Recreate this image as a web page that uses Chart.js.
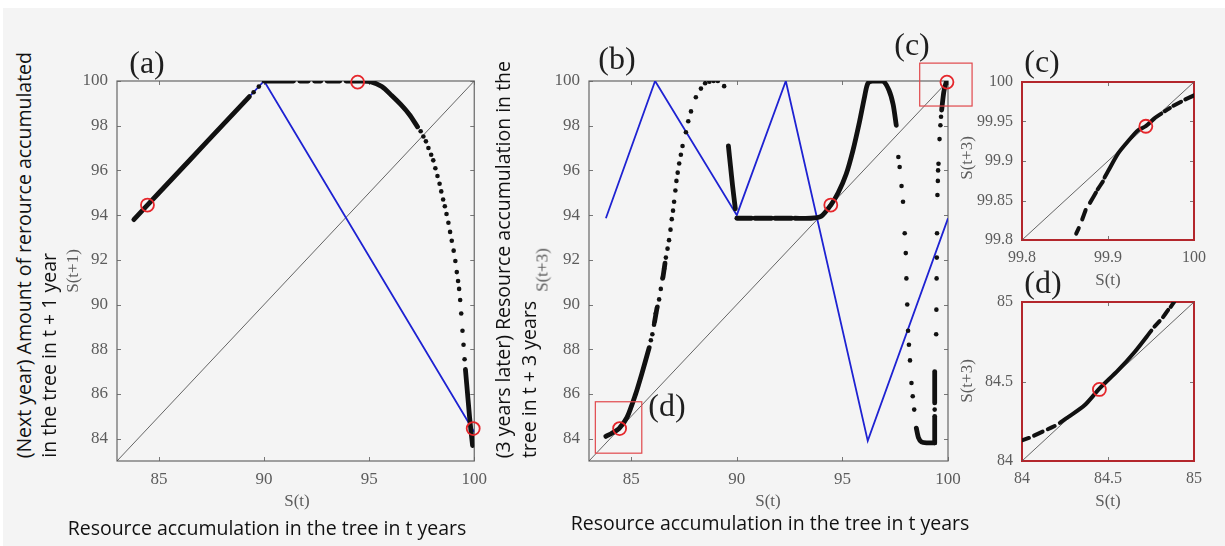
<!DOCTYPE html>
<html>
<head>
<meta charset="utf-8">
<script src="https://cdn.jsdelivr.net/npm/chart.js@4.4.1/dist/chart.umd.min.js"></script>
<style>
html, body { margin: 0; padding: 0; background: #fff; width: 1225px; height: 546px; overflow: hidden; }
#fig { position: absolute; left: 3px; top: 8px; width: 1222px; height: 538px; background: #f4f4f4; }
canvas { position: absolute; }
.lbl { position: absolute; font-family: "Liberation Serif", serif; color: #1e1e1e; font-size: 32px; line-height: 1; white-space: nowrap; transform: translate(-50%, -50%); }
.ax { position: absolute; font-family: "Liberation Serif", serif; color: #5c5c5c; font-size: 17px; line-height: 1; white-space: nowrap; transform: translate(-50%, -50%); }
.ax.rot { transform: translate(-50%, -50%) rotate(-90deg); }
.note { position: absolute; font-family: "Open Sans", sans-serif; color: #111; font-size: 17px; line-height: 1; white-space: nowrap; }
.note.h { transform: translate(-50%, -50%); }
.note.v { writing-mode: vertical-rl; transform: rotate(180deg); }
</style>
</head>
<body>
<div id="fig"></div>

<canvas id="chartA" width="440" height="480" style="left:55px;top:40px;"></canvas>
<canvas id="chartB" width="440" height="480" style="left:535px;top:40px;"></canvas>
<canvas id="chartC" width="240" height="230" style="left:975px;top:40px;"></canvas>
<canvas id="chartD" width="240" height="230" style="left:975px;top:270px;"></canvas>

<div class="lbl" style="left:147px;top:62px;">(a)</div>
<div class="lbl" style="left:617px;top:58px;">(b)</div>
<div class="lbl" style="left:912px;top:44px;">(c)</div>
<div class="lbl" style="left:667px;top:405px;">(d)</div>
<div class="lbl" style="left:1042px;top:61px;">(c)</div>
<div class="lbl" style="left:1043px;top:282px;">(d)</div>

<div class="ax" style="left:297px;top:500px;">S(t)</div>
<div class="ax" style="left:768px;top:500px;">S(t)</div>
<div class="ax" style="left:1108px;top:279px;">S(t)</div>
<div class="ax" style="left:1108px;top:500px;">S(t)</div>
<div class="ax rot" style="left:72px;top:271px;">S(t+1)</div>
<div class="ax rot" style="left:542px;top:270px;">S(t+3)</div>
<div class="ax rot" style="left:966px;top:158px;">S(t+3)</div>
<div class="ax rot" style="left:966px;top:381px;">S(t+3)</div>

<div class="note v fit" style="left:14px;bottom:88px;">(Next year) Amount of rerource accumulated</div>
<div class="note v fit" style="left:39px;bottom:88px;">in the tree in t + 1 year</div>
<div class="note v fit" style="left:493px;bottom:88px;">(3 years later) Resource accumulation in the</div>
<div class="note v fit" style="left:519px;bottom:88px;">tree in t + 3 years</div>
<div class="note h fit" style="left:267px;top:528px;">Resource accumulation in the tree in t years</div>
<div class="note h fit" style="left:770px;top:523px;">Resource accumulation in the tree in t years</div>

<script>
// tick values
const AB_X_TICKS = [85, 90, 95, 100];
const AB_Y_TICKS = [84, 86, 88, 90, 92, 94, 96, 98, 100];
const C_X_TICKS = [99.8, 99.9, 100];
const C_Y_TICKS = [99.8, 99.85, 99.9, 99.95, 100];
const D_X_TICKS = [84, 84.5, 85];
const D_Y_TICKS = [84, 84.5, 85];

// (a) S(t+1) against S(t)
const A_DIAG = [[83, 83], [100, 100]];
const A_TENT = [[83.8, 93.8], [90, 100], [100, 84.3]];
const A_SOLID = [
  [[83.8, 93.8], [85, 95], [86.5, 96.5], [88, 98], [89.3, 99.3]],
  [[90, 100], [91.4, 100]],
  [[91.7, 100], [92.1, 100]],
  [[92.4, 100], [92.7, 100]],
  [[93.0, 100], [93.6, 100]],
  [[93.9, 100], [94.6, 100], [95.06, 99.97], [95.6, 99.75], [96.07, 99.35], [96.5, 98.95], [96.92, 98.49], [97.3, 97.95]],
  [[99.58, 87.1], [99.7, 85.8], [99.78, 84.94], [99.85, 84.3], [99.92, 83.69]],
];
const A_DOTS = [
  [89.5, 99.5], [89.75, 99.75],
  [97.45, 97.75], [97.58, 97.52], [97.7, 97.3], [97.82, 97.0], [97.95, 96.7], [98.05, 96.45],
  [98.15, 96.1], [98.25, 95.75], [98.35, 95.4], [98.43, 95.06], [98.52, 94.7], [98.6, 94.4],
  [98.68, 94.05], [98.77, 93.66], [98.85, 93.25], [98.93, 92.85], [99.02, 92.41], [99.1, 91.95],
  [99.17, 91.45], [99.23, 91.05], [99.28, 90.7], [99.33, 90.2], [99.38, 89.6], [99.44, 88.83],
  [99.49, 88.2], [99.54, 87.55],
];
const A_CYCLE = [[84.45, 94.45], [94.45, 99.95], [99.95, 84.45]];

// (b) S(t+3) against S(t)
const B_DIAG = [[83, 83], [100, 100]];
const B_TENT = [[83.8, 93.86], [86.13, 100], [90.0, 94.0], [92.32, 100], [96.2, 83.9], [100, 93.86]];
const B_SOLID = [
  [[83.8, 84.1], [84.1, 84.25], [84.42, 84.45], [84.8, 84.95], [85.2, 85.97], [85.5, 86.9], [85.85, 88.07]],
  [[86.1, 89.2], [86.22, 89.85]],
  [[86.5, 91.2], [86.6, 91.85]],
  [[89.6, 97.1], [89.7, 96.2], [89.8, 95.3], [89.93, 94.28]],
  [[90.0, 93.86], [90.7, 93.86]],
  [[90.85, 93.86], [91.65, 93.86]],
  [[91.8, 93.86], [92.6, 93.86]],
  [[92.75, 93.86], [93.5, 93.86], [94.0, 93.95], [94.45, 94.45], [94.8, 95.0], [95.18, 95.84], [95.5, 96.9],
   [95.81, 98.18], [96.05, 99.3], [96.21, 99.9], [96.5, 100], [96.92, 100], [97.2, 99.6], [97.4, 98.96], [97.55, 98.02]],
  [[98.5, 84.47], [98.6, 84.05], [98.75, 83.85], [99.0, 83.81], [99.37, 83.81]],
  [[99.37, 83.81], [99.37, 85.0]],
  [[99.37, 85.6], [99.37, 87.0]],
  [[99.7, 98.7], [99.8, 99.5], [99.9, 99.9], [99.96, 99.98]],
];
const B_DOTS = [
  [85.93, 88.4], [86.0, 88.67], [86.08, 89.1], [86.16, 89.6], [86.24, 89.9], [86.32, 90.23], [86.4, 90.7],
  [86.48, 91.17], [86.56, 91.6], [86.64, 92.1], [86.72, 92.5], [86.79, 92.88], [86.86, 93.35], [86.92, 93.82],
  [86.98, 94.2], [87.03, 94.6], [87.09, 95.1], [87.14, 95.53], [87.2, 95.9], [87.27, 96.31], [87.35, 96.7],
  [87.43, 97.09], [87.59, 97.71], [87.7, 98.2], [87.83, 98.64], [88.06, 99.27],
  [88.3, 99.66], [88.5, 99.9], [88.7, 99.97], [88.9, 100], [89.1, 100], [89.4, 99.77],
  [97.65, 96.6], [97.71, 96.15], [97.8, 95.3], [97.87, 94.6], [97.95, 93.19], [98.0, 92.3], [98.03, 91.17],
  [98.07, 90.0], [98.11, 88.83], [98.15, 88.2], [98.2, 87.5], [98.27, 86.49], [98.33, 85.9], [98.4, 85.3],
  [99.37, 85.3],
  [99.44, 88.67], [99.45, 89.77], [99.46, 91.17], [99.47, 92.1], [99.48, 93.19], [99.5, 94.9], [99.52, 95.53],
  [99.53, 96.0], [99.55, 96.3], [99.6, 97.4], [99.64, 98.02], [99.67, 98.4],
];
const B_CYCLE = [[84.45, 84.45], [94.45, 94.45], [99.95, 99.95]];

// (c) close-up near 100
const C_DIAG = [[99.8, 99.8], [100, 100]];
const C_SOLID = [
  [[99.863, 99.808], [99.866, 99.815]],
  [[99.87, 99.826], [99.874, 99.838]],
  [[99.879, 99.847], [99.886, 99.86]],
  [[99.888, 99.864], [99.894, 99.874]],
  [[99.896, 99.879], [99.9, 99.887], [99.912, 99.91], [99.924, 99.926], [99.935, 99.939], [99.944, 99.944],
   [99.954, 99.954], [99.962, 99.96]],
  [[99.966, 99.963], [99.972, 99.967]],
  [[99.976, 99.97], [99.985, 99.975]],
  [[99.99, 99.978], [100, 99.983]],
];
const C_CYCLE = [[99.944, 99.944]];

// (d) close-up near 84.5
const D_DIAG = [[84, 84], [85, 85]];
const D_SOLID = [
  [[84.0, 84.13], [84.04, 84.145]],
  [[84.07, 84.16], [84.12, 84.185]],
  [[84.15, 84.2], [84.19, 84.22]],
  [[84.22, 84.24], [84.27, 84.277], [84.364, 84.35], [84.45, 84.455], [84.558, 84.57], [84.655, 84.686], [84.752, 84.82]],
  [[84.77, 84.845], [84.8, 84.88]],
  [[84.82, 84.905], [84.85, 84.95]],
  [[84.865, 84.97], [84.884, 85.0]],
];
const D_CYCLE = [[84.45, 84.45]];

// zoom boxes drawn on (b), in data units: x1, y1, x2, y2
const B_ZOOM_BOXES = [[83.3, 85.65, 85.5, 83.35], [98.66, 100.8, 101.14, 98.88]];

function pts(arr) {
  return arr.map(p => ({x: p[0], y: p[1]}));
}

function makeDatasets(diag, tent, solid, dots, cycle, lineW) {
  const ds = [];
  ds.push({data: pts(cycle), showLine: false, pointRadius: 6.5, pointBorderWidth: 1.8,
    pointBorderColor: '#e5262b', pointBackgroundColor: 'rgba(0,0,0,0)', clip: false, order: 0});
  if (dots) {
    ds.push({data: pts(dots), showLine: false, pointRadius: 2.3, pointBorderWidth: 0,
      pointBackgroundColor: '#111', order: 1});
  }
  solid.forEach(seg => {
    ds.push({data: pts(seg), showLine: true, borderColor: '#111', borderWidth: lineW, pointRadius: 0,
      tension: 0.25, borderCapStyle: 'round', borderJoinStyle: 'round', order: 2});
  });
  if (tent) {
    ds.push({data: pts(tent), showLine: true, borderColor: '#1e22d2', borderWidth: 1.8, pointRadius: 0, order: 3});
  }
  ds.push({data: pts(diag), showLine: true, borderColor: '#555', borderWidth: 0.9, pointRadius: 0, order: 4});
  return ds;
}

function scaleCfg(axis, min, max, ticks, size, fontSize) {
  return {
    type: 'linear',
    min: min,
    max: max,
    grid: {display: false, drawTicks: false},
    border: {display: false},
    afterBuildTicks: s => { s.ticks = ticks.map(v => ({value: v})); },
    afterFit: s => { if (axis === 'x') s.height = size; else s.width = size; },
    ticks: {
      autoSkip: false, maxRotation: 0, minRotation: 0,
      padding: axis === 'x' ? 8 : 9,
      color: '#5c5c5c',
      font: {family: '"Liberation Serif", serif', size: fontSize},
      callback: v => String(v),
    },
  };
}

// frame with inward ticks, like a boxed axes
const framePlugin = {
  id: 'frame',
  beforeDatasetsDraw(chart, args, opts) {
    const {ctx, chartArea: a, scales} = chart;
    const L = 4;
    ctx.save();
    ctx.strokeStyle = '#777';
    ctx.lineWidth = 1;
    ctx.beginPath();
    scales.x.ticks.forEach(t => {
      const px = Math.round(scales.x.getPixelForValue(t.value)) + 0.5;
      ctx.moveTo(px, a.bottom); ctx.lineTo(px, a.bottom - L);
      ctx.moveTo(px, a.top); ctx.lineTo(px, a.top + L);
    });
    scales.y.ticks.forEach(t => {
      const py = Math.round(scales.y.getPixelForValue(t.value)) + 0.5;
      ctx.moveTo(a.left, py); ctx.lineTo(a.left + L, py);
      ctx.moveTo(a.right, py); ctx.lineTo(a.right - L, py);
    });
    ctx.stroke();
    ctx.strokeStyle = opts.color;
    ctx.lineWidth = opts.width;
    ctx.strokeRect(a.left, a.top, a.right - a.left, a.bottom - a.top);
    ctx.restore();
  },
  afterDatasetsDraw(chart, args, opts) {
    if (!opts.boxes) return;
    const {ctx, scales} = chart;
    ctx.save();
    ctx.strokeStyle = '#e0474b';
    ctx.lineWidth = 1.2;
    opts.boxes.forEach(b => {
      const x1 = scales.x.getPixelForValue(b[0]);
      const y1 = scales.y.getPixelForValue(b[1]);
      const x2 = scales.x.getPixelForValue(b[2]);
      const y2 = scales.y.getPixelForValue(b[3]);
      ctx.strokeRect(x1, y1, x2 - x1, y2 - y1);
    });
    ctx.restore();
  },
};

function makeChart(id, datasets, xs, ys, padding, frame) {
  return new Chart(document.getElementById(id), {
    type: 'scatter',
    data: {datasets: datasets},
    options: {
      responsive: false,
      animation: false,
      devicePixelRatio: 1,
      events: [],
      layout: {padding: padding},
      scales: {x: xs, y: ys},
      plugins: {legend: {display: false}, tooltip: {enabled: false}, frame: frame},
    },
    plugins: [framePlugin],
  });
}

makeChart('chartA',
  makeDatasets(A_DIAG, A_TENT, A_SOLID, A_DOTS, A_CYCLE, 4.8),
  scaleCfg('x', 83, 100, AB_X_TICKS, 59, 17),
  scaleCfg('y', 83, 100, AB_Y_TICKS, 62, 17),
  {left: 0, right: 18, top: 41, bottom: 0},
  {color: '#666', width: 1.2});

makeChart('chartB',
  makeDatasets(B_DIAG, B_TENT, B_SOLID, B_DOTS, B_CYCLE, 4.8),
  scaleCfg('x', 83, 100, AB_X_TICKS, 59, 17),
  scaleCfg('y', 83, 100, AB_Y_TICKS, 54, 17),
  {left: 0, right: 27, top: 41, bottom: 0},
  {color: '#666', width: 1.2, boxes: B_ZOOM_BOXES});

makeChart('chartC',
  makeDatasets(C_DIAG, null, C_SOLID, null, C_CYCLE, 4),
  scaleCfg('x', 99.8, 100, C_X_TICKS, 30, 16),
  scaleCfg('y', 99.8, 100, C_Y_TICKS, 47, 16),
  {left: 0, right: 21, top: 42, bottom: 0},
  {color: '#b3262c', width: 2});

makeChart('chartD',
  makeDatasets(D_DIAG, null, D_SOLID, null, D_CYCLE, 4),
  scaleCfg('x', 84, 85, D_X_TICKS, 39, 16),
  scaleCfg('y', 84, 85, D_Y_TICKS, 47, 16),
  {left: 0, right: 21, top: 32, bottom: 0},
  {color: '#b3262c', width: 2});

// size the annotation text so the long bottom caption spans about 399px
(function fitNotes() {
  const c = document.createElement('canvas').getContext('2d');
  c.font = '20px "Open Sans"';
  const w = c.measureText('Resource accumulation in the tree in t years').width;
  const size = 20 * 399 / w;
  document.querySelectorAll('.fit').forEach(el => { el.style.fontSize = size.toFixed(2) + 'px'; });
})();
</script>
</body>
</html>
